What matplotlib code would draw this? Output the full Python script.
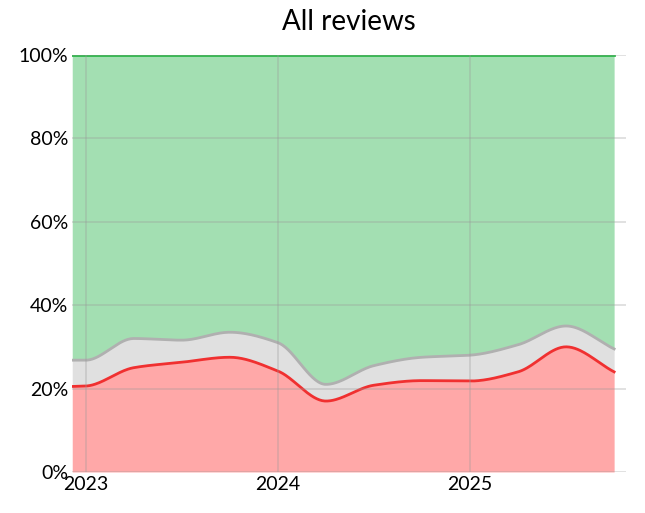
import numpy as np
import matplotlib
matplotlib.use("Agg")
import matplotlib.pyplot as plt

dates = [2022.93, 2023.0, 2023.25, 2023.5, 2023.75, 2024.0, 2024.25, 2024.5, 2024.75, 2025.0, 2025.25, 2025.5, 2025.75]
negative = [20.5, 20.6, 25.0, 26.3, 27.5, 24.2, 17.0, 20.8, 21.9, 21.8, 24.0, 30.0, 24.0]
neutral = [6.3, 6.2, 7.0, 5.3, 6.0, 6.8, 4.0, 4.7, 5.6, 6.2, 6.5, 5.0, 5.5]
positive = [100 - a - b for a, b in zip(negative, neutral)]

def pchip(x, y, xs):
    x = np.asarray(x); y = np.asarray(y)
    h = np.diff(x); d = np.diff(y) / h
    m = np.zeros_like(y)
    for i in range(1, len(y) - 1):
        if d[i-1] * d[i] > 0:
            w1 = 2*h[i] + h[i-1]; w2 = h[i] + 2*h[i-1]
            m[i] = (w1 + w2) / (w1/d[i-1] + w2/d[i])
    m[0] = d[0]; m[-1] = d[-1]
    idx = np.clip(np.searchsorted(x, xs) - 1, 0, len(h) - 1)
    t = (xs - x[idx]) / h[idx]; hh = h[idx]
    h00 = 2*t**3 - 3*t**2 + 1; h10 = t**3 - 2*t**2 + t
    h01 = -2*t**3 + 3*t**2; h11 = t**3 - t**2
    return h00*y[idx] + h10*hh*m[idx] + h01*y[idx+1] + h11*hh*m[idx+1]

xs = np.linspace(dates[0], dates[-1], 400)
neg = pchip(dates, negative, xs)
neu_top = pchip(dates, np.array(negative) + np.array(neutral), xs)

plt.rcParams['font.family'] = ['Lato', 'DejaVu Sans']
fig, ax = plt.subplots(figsize=(6.45, 5.13), dpi=100)
fig.subplots_adjust(left=0.112, right=0.970, top=0.893, bottom=0.08)

ax.fill_between(xs, 0, neg, color='#ffa8a8', lw=0)
ax.fill_between(xs, neg, neu_top, color='#e0e0e0', lw=0)
ax.fill_between(xs, neu_top, 100, color='#a3dfb2', lw=0)
ax.plot(xs, neu_top, color='#b0b0b0', lw=2)
ax.plot(xs, neg, color='#f03030', lw=2)
ax.plot(xs, np.full_like(xs, 100), color='#2db84a', lw=2)

ax.set_xlim(dates[0], dates[-1] + 0.06)
ax.set_ylim(0, 100)
ax.set_xticks([2023, 2024, 2025])
ax.set_xticklabels(['2023', '2024', '2025'], fontsize=14)
ax.set_yticks(range(0, 101, 20))
ax.set_yticklabels([f'{v}%' for v in range(0, 101, 20)], fontsize=14)
ax.grid(True, color='#999999', alpha=0.35, lw=1.2)
ax.set_axisbelow(False)
for s in ax.spines.values():
    s.set_visible(False)
ax.tick_params(length=0, pad=3)
ax.set_title('All reviews', fontsize=20, pad=18)
fig.savefig('out.png')
